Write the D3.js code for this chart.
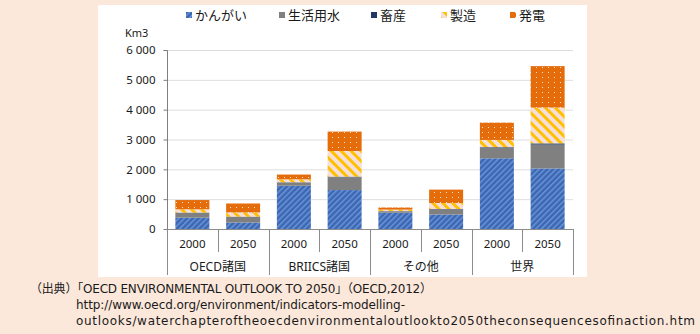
<!DOCTYPE html>
<html>
<head>
<meta charset="utf-8">
<script src="https://cdn.jsdelivr.net/npm/d3@7"></script>
<style>
  body { margin: 0; background: #fce8da; }
  svg { display: block; }
  text { font-family: "Noto Sans", "Noto Sans CJK JP", sans-serif; fill: #1a1a1a; }
</style>
</head>
<body>
<svg id="chart" width="700" height="334"></svg>
<script>
// data
const groups = ["OECD諸国", "BRIICS諸国", "その他", "世界"];
const years = ["2000", "2050"];
const seriesNames = ["かんがい", "生活用水", "畜産", "製造", "発電"];
const irrigation = [380, 215, 1450, 1305, 545, 485, 2370, 2030];
const domestic = [160, 190, 100, 430, 45, 170, 340, 800];
const livestock = [10, 10, 15, 20, 10, 15, 30, 40];
const manufacturing = [110, 140, 100, 860, 50, 200, 245, 1200];
const electricity = [310, 300, 160, 650, 70, 450, 580, 1390];
const yTicks = [0, 1000, 2000, 3000, 4000, 5000, 6000];
const unitLabel = "Km3";
const sourceLines = [
  "（出典）「OECD ENVIRONMENTAL OUTLOOK TO 2050」（OECD,2012）",
  "http://www.oecd.org/environment/indicators-modelling-",
  "outlooks/waterchapteroftheoecdenvironmentaloutlookto2050theconsequencesofinaction.htm"
];

const seriesValues = [irrigation, domestic, livestock, manufacturing, electricity];
const seriesFills = ["url(#pIrr)", "#808080", "#1f3864", "url(#pMan)", "url(#pEle)"];

const svg = d3.select("#chart");
const plot = { left: 167, right: 573, top: 50, bottom: 229 };

// white panel
svg.append("rect").attr("x", 98).attr("y", 5).attr("width", 489).attr("height", 272).attr("fill", "#fff");

// patterns
const defs = svg.append("defs");
const pIrr = defs.append("pattern").attr("id", "pIrr").attr("patternUnits", "userSpaceOnUse")
  .attr("width", 4).attr("height", 4).attr("patternTransform", "rotate(45)");
pIrr.append("rect").attr("width", 4).attr("height", 4).attr("fill", "#3b67b3");
pIrr.append("rect").attr("width", 1.4).attr("height", 4).attr("fill", "#6e96d8");

const pMan = defs.append("pattern").attr("id", "pMan").attr("patternUnits", "userSpaceOnUse")
  .attr("width", 7).attr("height", 7).attr("patternTransform", "rotate(-45)");
pMan.append("rect").attr("width", 7).attr("height", 7).attr("fill", "#f6dfdb");
pMan.append("rect").attr("width", 3).attr("height", 7).attr("fill", "#ffc000");

const pEle = defs.append("pattern").attr("id", "pEle").attr("patternUnits", "userSpaceOnUse")
  .attr("width", 6).attr("height", 5);
pEle.append("rect").attr("width", 6).attr("height", 5).attr("fill", "#e46c0a");
pEle.append("rect").attr("x", 2).attr("y", 2).attr("width", 1).attr("height", 1).attr("fill", "#fbe0c8");

// scales
const cats = d3.range(groups.length * years.length);
const x = d3.scaleBand().domain(cats).range([plot.left, plot.right])
  .paddingInner(0.33).paddingOuter(0.165);
const y = d3.scaleLinear().domain([0, 6000]).range([plot.bottom, plot.top]);

// gridlines
svg.append("g").selectAll("line").data(yTicks.slice(1)).enter().append("line")
  .attr("x1", plot.left).attr("x2", plot.right)
  .attr("y1", d => y(d) + 0.5).attr("y2", d => y(d) + 0.5)
  .attr("stroke", "#dedede");

// stacked bars
const rows = cats.map(i => {
  const r = { cat: i };
  seriesNames.forEach((s, k) => r[s] = seriesValues[k][i]);
  return r;
});
const stacked = d3.stack().keys(seriesNames)(rows);
stacked.forEach((layer, k) => {
  svg.append("g").selectAll("rect").data(layer).enter().append("rect")
    .attr("x", d => x(d.data.cat))
    .attr("width", x.bandwidth())
    .attr("y", d => y(d[1]))
    .attr("height", d => y(d[0]) - y(d[1]))
    .attr("fill", seriesFills[k]);
});

// y axis
const yAxis = svg.append("g").attr("transform", `translate(${plot.left + 0.5},0)`)
  .call(d3.axisLeft(y).tickValues(yTicks).tickSize(4).tickPadding(8)
    .tickFormat(d => d3.format(",")(d).replace(/,/g, " ")));
yAxis.select(".domain").attr("stroke", "#7f7f7f").attr("d", `M-4,${y(6000) + 0.5}H0V${plot.bottom}`);
yAxis.selectAll(".tick line").attr("stroke", "#7f7f7f");
yAxis.selectAll("text").style("font-size", "11.5px").attr("fill", "#1a1a1a");

svg.append("text").attr("x", 125).attr("y", 37).style("font-size", "11px").text(unitLabel);

// category axis
const gap = (x.step() - x.bandwidth()) / 2;
const bounds = d3.range(cats.length + 1).map(k => k < cats.length ? x(k) - gap : plot.right);
svg.append("line").attr("x1", plot.left).attr("x2", plot.right)
  .attr("y1", plot.bottom + 0.5).attr("y2", plot.bottom + 0.5).attr("stroke", "#8c8c8c");
svg.append("g").selectAll("line").data(bounds).enter().append("line")
  .attr("x1", d => Math.round(d) + 0.5).attr("x2", d => Math.round(d) + 0.5)
  .attr("y1", plot.bottom).attr("y2", (d, k) => k % 2 === 0 ? 275 : 252)
  .attr("stroke", "#8c8c8c");

svg.append("g").selectAll("text").data(cats).enter().append("text")
  .attr("x", d => x(d) + x.bandwidth() / 2).attr("y", 248)
  .attr("text-anchor", "middle").style("font-size", "11.5px")
  .text(d => years[d % years.length]);

svg.append("g").selectAll("text").data(groups).enter().append("text")
  .attr("x", (d, g) => (bounds[g * 2] + bounds[g * 2 + 2]) / 2).attr("y", 271)
  .attr("text-anchor", "middle").style("font-size", "12px")
  .text(d => d);

// legend
const legendX = [195, 288, 380, 450, 519];
const legend = svg.append("g").selectAll("g").data(seriesNames).enter().append("g")
  .attr("transform", (d, k) => `translate(${legendX[k]},0)`);
legend.append("rect").attr("x", -9).attr("y", 12).attr("width", 6).attr("height", 6)
  .attr("fill", (d, k) => seriesFills[k]);
legend.append("text").attr("y", 20).style("font-size", "13px").text(d => d);

// source note
const noteWidths = [402, 329, 619];
svg.append("g").selectAll("text").data(sourceLines).enter().append("text")
  .attr("x", (d, k) => k === 0 ? 30 : 76).attr("y", (d, k) => 293 + k * 16)
  .attr("textLength", (d, k) => noteWidths[k]).attr("lengthAdjust", "spacing")
  .style("font-family", "'DejaVu Sans', 'Noto Sans CJK JP', sans-serif")
  .style("font-size", "12px").attr("fill", "#222")
  .text(d => d);
</script>
</body>
</html>
